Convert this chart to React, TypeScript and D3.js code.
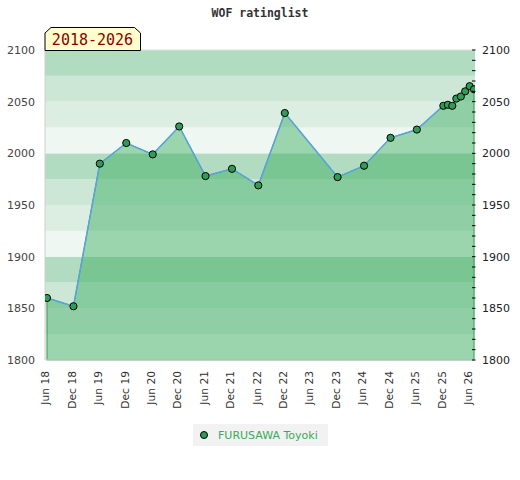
import * as d3 from 'd3';

// rating list dates and ratings
const dates = [
  '2018-06', '2018-12', '2019-06', '2019-12', '2020-06', '2020-12', '2021-06', '2021-12',
  '2022-06', '2022-12', '2023-12', '2024-06', '2024-12', '2025-06', '2025-12', '2026-01',
  '2026-02', '2026-03', '2026-04', '2026-05', '2026-06', '2026-07',
];
const ratings = [
  1860, 1852, 1990, 2010, 1999, 2026, 1978, 1985,
  1969, 2039, 1977, 1988, 2015, 2023, 2046, 2047,
  2046, 2053, 2055, 2060, 2065, 2062,
];
const yTicks = [1800, 1850, 1900, 1950, 2000, 2050, 2100];
const xTickDates = [
  '2018-06', '2018-12', '2019-06', '2019-12', '2020-06', '2020-12', '2021-06', '2021-12', '2022-06',
  '2022-12', '2023-06', '2023-12', '2024-06', '2024-12', '2025-06', '2025-12', '2026-06',
];
const bandColors = ['#eef7f1', '#dcede2', '#cce7d6', '#b2dcc2'];

const parse = d3.timeParse('%Y-%m');
const fmt = d3.timeFormat('%b %y');

const W = 520, H = 480;
const left = 45, right = 475, top = 50, bottom = 360;

export default function App() {
  const points = dates.map((d, i) => ({ date: parse(d)!, v: ratings[i] }));
  const x = d3.scaleTime()
    .domain([points[0].date, points[points.length - 1].date])
    .range([47, 474]);
  const y = d3.scaleLinear().domain([1800, 2100]).range([bottom, top]);

  const line = d3.line<typeof points[0]>().x(d => x(d.date)).y(d => y(d.v));
  const area = d3.area<typeof points[0]>().x(d => x(d.date)).y0(y(1800)).y1(d => y(d.v));

  const bands = d3.range(1800, 2100, 25);
  const minor = d3.range(1800, 2101, 10);
  const sans = '"DejaVu Sans", sans-serif';
  const mono = '"DejaVu Sans Mono", monospace';

  return (
    <div style={{ position: 'absolute', left: 0, top: 0 }}>
      <svg width={W} height={H} style={{ display: 'block', background: '#fff' }}>
        <defs>
          <clipPath id="plot-clip">
            <rect x={left} y={0} width={right - left} height={bottom} />
          </clipPath>
        </defs>
        <text x={W / 2} y={17} textAnchor="middle" fontFamily={mono} fontWeight="bold"
          fontSize={11.5} fill="#333">WOF ratinglist</text>

        {bands.map(b => (
          <rect key={b} x={left} width={right - left} y={y(b + 25)} height={y(b) - y(b + 25)}
            fill={bandColors[((b - 1800) / 25) % 4]} />
        ))}

        <path d={area(points)!} fill="rgba(50,170,90,0.45)" stroke="#3a9a5a" strokeWidth={1} />
        <path d={line(points)!} fill="none" stroke="#5aa3dc" strokeWidth={1.5} />

        <line x1={left} x2={right} y1={top} y2={top} stroke="#dcdcdc" />
        <line x1={left} x2={right} y1={bottom} y2={bottom} stroke="#dcdcdc" />
        <line x1={left} x2={left} y1={top} y2={bottom} stroke="#d0d0d0" />

        <g clipPath="url(#plot-clip)">
          {points.map((p, i) => (
            <circle key={i} cx={x(p.date)} cy={y(p.v)} r={3.6} fill="#2f9b55" stroke="#000" strokeWidth={1} />
          ))}
        </g>

        {minor.map(v => (
          <line key={v} x1={472} x2={475.5} y1={y(v)} y2={y(v)} stroke="#000" strokeWidth={1} />
        ))}

        {yTicks.map(v => (
          <g key={v}>
            <text x={35} y={y(v)} dy="0.35em" textAnchor="end" fontFamily={sans} fontSize={11} fill="#444">{v}</text>
            <text x={482} y={y(v)} dy="0.35em" textAnchor="start" fontFamily={sans} fontSize={11} fill="#222">{v}</text>
          </g>
        ))}

        {xTickDates.map(s => {
          const d = parse(s)!;
          return (
            <text key={s} transform={`translate(${x(d) - 1.5},371) rotate(-90)`} dy="0.35em"
              textAnchor="end" fontFamily={sans} fontSize={10.7} fill="#333">{fmt(d)}</text>
          );
        })}

        <path d="M45,33 L51,27.5 L134.5,27.5 L140.5,33 L140.5,50.5 L45,50.5 Z" fill="#ffffcc" stroke="#000" strokeWidth={1} />
        <text x={92.5} y={45} textAnchor="middle" fontFamily={mono} fontSize={15} fill="#8b0000">2018-2026</text>

        <rect x={193} y={424} width={135} height={22} fill="#f2f2f2" />
        <circle cx={204} cy={435} r={3.5} fill="#2f9b55" stroke="#000" strokeWidth={1} />
        <text x={218} y={435} dy="0.35em" fontFamily={sans} fontSize={11} fill="#3aaa5c">FURUSAWA Toyoki</text>
      </svg>
    </div>
  );
}
